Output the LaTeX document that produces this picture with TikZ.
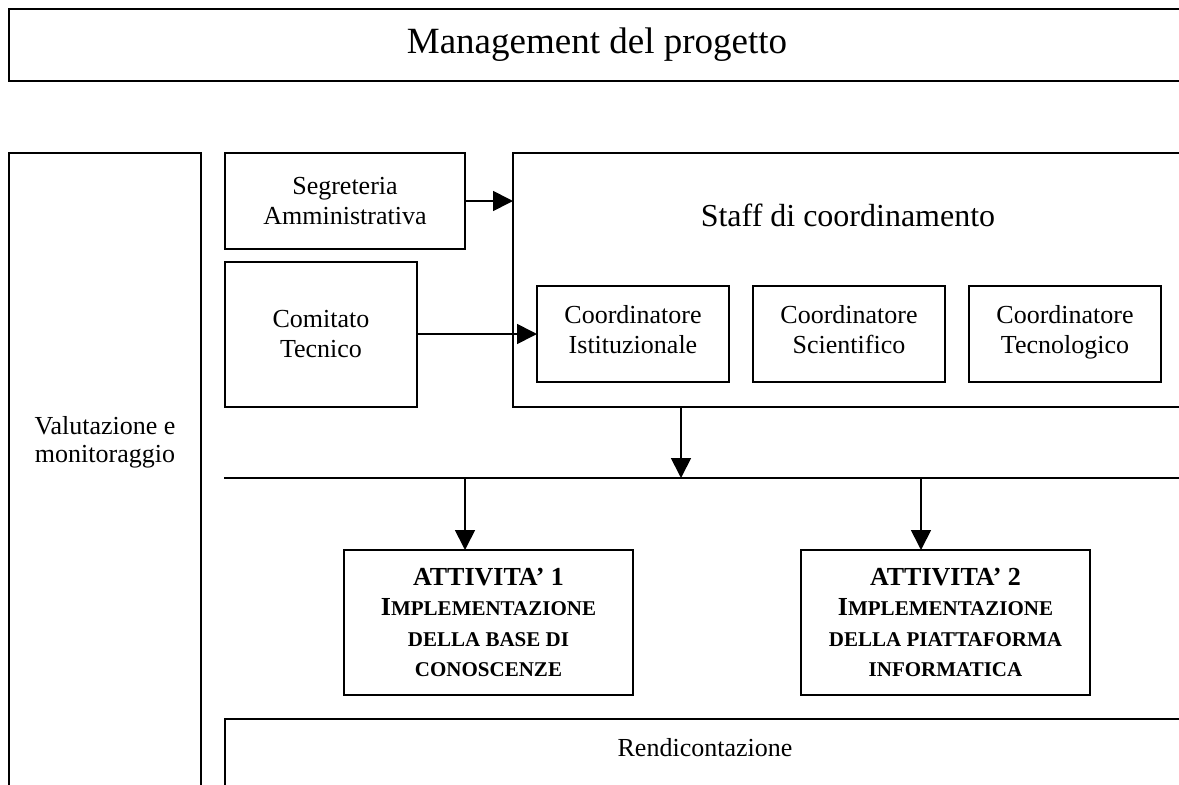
\documentclass[tikz,border=0pt]{standalone}
\usepackage{fontspec}
\setmainfont{Liberation Serif}
\usetikzlibrary{arrows.meta}
\newcommand\titlef{\fontsize{37}{40}\selectfont}
\newcommand\stafff{\fontsize{32}{36}\selectfont}
\newcommand\bodyf{\fontsize{26}{30}\selectfont}
\newcommand\actf{\bfseries\fontsize{26}{30.5}\selectfont}
\newcommand\sck[1]{{\fontsize{21}{30.5}\selectfont #1}}
\tikzset{
  box/.style={draw=black, line width=1.7pt, rectangle, inner sep=0pt, outer sep=0pt,
    anchor=north west, align=center, font=\bodyf},
  lbl/.style={inner sep=0pt, outer sep=0pt, align=center, font=\bodyf},
  arr/.style={line width=1.7pt, -{Triangle[width=20pt,length=20pt]}},
  bus/.style={line width=1.7pt}
}
\begin{document}
\begin{tikzpicture}[x=1pt, y=-1pt]
\path[use as bounding box] (0,0) rectangle (1179,785);
\clip (0,0) rectangle (1179,785);
% top
\node[box, minimum width=1176pt, minimum height=72pt, font=\titlef] (mgmt) at (9,9) {Management del progetto};
% left column
\node[box, minimum width=192pt, minimum height=660pt] (valbox) at (9,153) {};
\node[lbl, font=\fontsize{26}{28}\selectfont] (valtext) at (105,442) {Valutazione e\\monitoraggio};
% segreteria and comitato
\node[box, minimum width=240pt, minimum height=96pt] (seg) at (225,153) {Segreteria\\Amministrativa};
\node[box, minimum width=192pt, minimum height=145pt] (com) at (225,262) {Comitato\\Tecnico};
% staff
\node[box, minimum width=672pt, minimum height=254pt] (staff) at (513,153) {};
\node[lbl, font=\stafff] (stafftitle) at (848,215) {Staff di coordinamento};
\node[box, minimum width=192pt, minimum height=96pt] (ist) at (537,286) {Coordinatore\\Istituzionale\strut};
\node[box, minimum width=192pt, minimum height=96pt] (sci) at (753,286) {Coordinatore\\Scientifico\strut};
\node[box, minimum width=192pt, minimum height=96pt] (tec) at (969,286) {Coordinatore\\Tecnologico\strut};
% arrows into staff
\draw[arr] (seg.east) -- (seg.east -| staff.west);
\draw[arr] (ist.west -| com.east) -- (ist.west);
% bus
\coordinate (busL) at (224,478);
\coordinate (busR) at (1185,478);
\coordinate (sa) at (681,478);
\coordinate (d1) at (465,478);
\coordinate (d2) at (921,478);
\draw[bus] (busL) -- (busR);
\draw[arr] (sa |- staff.south) -- (sa);
% activities
\node[box, minimum width=289pt, minimum height=145pt, font=\actf] (a1) at (344,550)
  {ATTIVITA’ 1\\I\sck{MPLEMENTAZIONE}\\\sck{DELLA BASE DI}\\\sck{CONOSCENZE}};
\node[box, minimum width=289pt, minimum height=145pt, font=\actf] (a2) at (801,550)
  {ATTIVITA’ 2\\I\sck{MPLEMENTAZIONE}\\\sck{DELLA PIATTAFORMA}\\\sck{INFORMATICA}};
\draw[arr] (d1) -- (d1 |- a1.north);
\draw[arr] (d2) -- (d2 |- a2.north);
% rendicontazione
\node[box, minimum width=960pt, minimum height=90pt] (rend) at (225,719) {};
\node[lbl] (rendtext) at (705,748) {Rendicontazione};
\end{tikzpicture}
\end{document}
